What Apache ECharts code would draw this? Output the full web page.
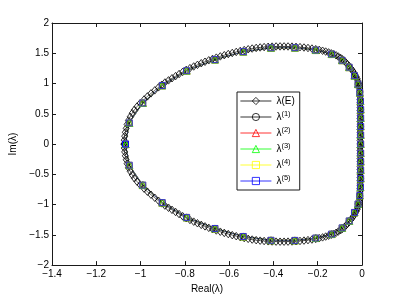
<!DOCTYPE html>
<html><head><meta charset="utf-8">
<script src="https://cdn.jsdelivr.net/npm/echarts@6/dist/echarts.min.js"></script>
<style>html,body{margin:0;padding:0;background:#fff}#c{width:399px;height:299px}</style>
</head><body><div id="c"></div>
<script>
// Tick values
const xTicks = [-1.4,-1.2,-1,-0.8,-0.6,-0.4,-0.2,0];
const yTicks = [-2,-1.5,-1,-0.5,0,0.5,1,1.5,2];
// Series names
const seriesNames = ['λ(E)','λ(1)','λ(2)','λ(3)','λ(4)','λ(5)'];
// λ(E): exact eigenvalues, upper half (Re, Im)
const lamEUpper = [
[-1.075,0.000],
[-1.074,0.065],[-1.072,0.130],[-1.069,0.195],[-1.065,0.260],[-1.061,0.325],[-1.055,0.390],[-1.047,0.450],[-1.038,0.510],[-1.028,0.565],[-1.016,0.620],[-1.002,0.675],
[-0.984,0.737],[-0.969,0.787],[-0.953,0.837],[-0.936,0.887],[-0.919,0.937],[-0.904,0.980],
[-0.890,1.017],[-0.874,1.052],[-0.858,1.087],[-0.842,1.122],[-0.826,1.157],[-0.810,1.192],[-0.794,1.225],
[-0.777,1.254],[-0.760,1.282],[-0.743,1.309],[-0.726,1.335],[-0.709,1.360],[-0.692,1.384],[-0.675,1.407],[-0.658,1.428],
[-0.640,1.448],[-0.622,1.468],[-0.604,1.487],[-0.586,1.505],[-0.568,1.522],[-0.550,1.538],[-0.532,1.553],[-0.514,1.566],[-0.496,1.578],[-0.478,1.588],[-0.460,1.596],[-0.442,1.602],[-0.424,1.607],[-0.406,1.610],
[-0.388,1.612],[-0.370,1.613],[-0.352,1.613],[-0.334,1.612],[-0.316,1.610],[-0.298,1.606],[-0.280,1.601],[-0.262,1.595],[-0.244,1.587],[-0.226,1.578],[-0.209,1.567],[-0.193,1.555],[-0.178,1.542],[-0.164,1.528],[-0.151,1.514],[-0.139,1.499],[-0.128,1.484],
[-0.117,1.466],[-0.107,1.446],[-0.097,1.424],[-0.088,1.400],[-0.080,1.374],[-0.073,1.347],[-0.066,1.320],[-0.059,1.292],[-0.053,1.264],[-0.047,1.236],[-0.041,1.206],[-0.036,1.176],[-0.031,1.144],[-0.026,1.112],[-0.022,1.080],[-0.019,1.047],[-0.016,1.014],[-0.014,0.980],[-0.012,0.946],[-0.011,0.912],
[-0.010,0.870],[-0.010,0.825],[-0.009,0.780],[-0.009,0.735],[-0.009,0.690],[-0.009,0.645],[-0.009,0.600],[-0.009,0.555],[-0.009,0.510],[-0.009,0.465],[-0.009,0.420],[-0.009,0.375],[-0.009,0.330],[-0.009,0.285],[-0.009,0.240],[-0.009,0.195],[-0.009,0.150],[-0.009,0.105],[-0.009,0.060],[-0.009,0.015]
];
// λ(E): lower half (Re, Im)
const lamELower = [
[-0.009,-0.015],[-0.009,-0.060],[-0.009,-0.105],[-0.009,-0.150],[-0.009,-0.195],[-0.009,-0.240],[-0.009,-0.285],[-0.009,-0.330],[-0.009,-0.375],[-0.009,-0.420],[-0.009,-0.465],[-0.009,-0.510],[-0.009,-0.555],[-0.009,-0.600],[-0.009,-0.645],[-0.009,-0.690],[-0.009,-0.735],[-0.009,-0.780],[-0.010,-0.825],[-0.010,-0.870],
[-0.011,-0.912],[-0.012,-0.946],[-0.014,-0.980],[-0.016,-1.014],[-0.019,-1.047],[-0.022,-1.080],[-0.026,-1.112],[-0.031,-1.144],[-0.036,-1.176],[-0.041,-1.206],[-0.047,-1.236],[-0.053,-1.264],[-0.059,-1.292],[-0.066,-1.320],[-0.073,-1.347],[-0.080,-1.374],[-0.088,-1.400],[-0.097,-1.424],[-0.107,-1.446],[-0.117,-1.466],
[-0.128,-1.484],[-0.139,-1.499],[-0.151,-1.514],[-0.164,-1.528],[-0.178,-1.542],[-0.193,-1.555],[-0.209,-1.567],[-0.226,-1.578],[-0.244,-1.587],[-0.262,-1.595],[-0.280,-1.601],[-0.298,-1.606],[-0.316,-1.610],[-0.334,-1.612],[-0.352,-1.613],[-0.370,-1.613],[-0.388,-1.612],
[-0.406,-1.610],[-0.424,-1.607],[-0.442,-1.602],[-0.460,-1.596],[-0.478,-1.588],[-0.496,-1.578],[-0.514,-1.566],[-0.532,-1.553],[-0.550,-1.538],[-0.568,-1.522],[-0.586,-1.505],[-0.604,-1.487],[-0.622,-1.468],[-0.640,-1.448],
[-0.658,-1.428],[-0.675,-1.407],[-0.692,-1.384],[-0.709,-1.360],[-0.726,-1.335],[-0.743,-1.309],[-0.760,-1.282],[-0.777,-1.254],
[-0.794,-1.225],[-0.810,-1.192],[-0.826,-1.157],[-0.842,-1.122],[-0.858,-1.087],[-0.874,-1.052],[-0.890,-1.017],
[-0.904,-0.980],[-0.919,-0.937],[-0.936,-0.887],[-0.953,-0.837],[-0.969,-0.787],[-0.984,-0.737],
[-1.002,-0.675],[-1.016,-0.620],[-1.028,-0.565],[-1.038,-0.510],[-1.047,-0.450],[-1.055,-0.390],[-1.061,-0.325],[-1.065,-0.260],[-1.069,-0.195],[-1.072,-0.130],[-1.074,-0.065],[-1.075,0.000]
];
// λ(1)…λ(5): approximations (Re, Im)
const lamApprox = [
[-1.068,0.000],[-1.051,0.349],[-0.990,0.678],[-0.902,0.968],[-0.792,1.212],[-0.664,1.395],[-0.536,1.527],[-0.411,1.590],[-0.303,1.592],[-0.209,1.553],[-0.137,1.487],[-0.090,1.385],[-0.058,1.270],[-0.034,1.130],[-0.018,0.990],[-0.010,0.850],[-0.007,0.710],[-0.006,0.570],[-0.006,0.430],[-0.006,0.290],[-0.006,0.150],[-0.006,0.000],
[-0.006,-0.150],[-0.006,-0.290],[-0.006,-0.430],[-0.006,-0.570],[-0.007,-0.710],[-0.010,-0.850],[-0.018,-0.990],[-0.034,-1.130],[-0.058,-1.270],[-0.090,-1.385],[-0.137,-1.487],[-0.209,-1.553],[-0.303,-1.592],[-0.411,-1.590],[-0.536,-1.527],[-0.664,-1.395],[-0.792,-1.212],[-0.902,-0.968],[-0.990,-0.678],[-1.051,-0.349],[-1.068,0.000]
];
const lam1 = lamApprox, lam2 = lamApprox, lam3 = lamApprox, lam4 = lamApprox, lam5 = lamApprox;

const FONT = '"Liberation Sans", Arial, Helvetica, sans-serif';
const AX = '#1a1a1a';
const fmtNum = v => String(+v.toFixed(2)).replace('-', '\u2212');

function mk(name, data, color, symbol, size, bw) {
  return {
    name, type: 'line', data, xAxisIndex: 0, yAxisIndex: 0,
    symbol, symbolSize: size, showSymbol: true, clip: false,
    lineStyle: { color, width: 0.6 },
    itemStyle: { color: 'rgba(255,255,255,0)', borderColor: color, borderWidth: bw },
    emphasis: { disabled: true }, silent: true, z: 2
  };
}

const chart = echarts.init(document.getElementById('c'), null, { renderer: 'canvas' });
const axBase = {
  type: 'value', splitLine: { show: false },
  axisLine: { show: true, onZero: false, lineStyle: { color: AX, width: 1 } },
  axisTick: { show: true, inside: true, length: 4, lineStyle: { color: AX } }
};
chart.setOption({
  animation: false,
  backgroundColor: '#fff',
  textStyle: { fontFamily: FONT },
  grid: { left: 52, right: 37, top: 23, bottom: 33 },
  xAxis: [
    Object.assign({}, axBase, { position: 'bottom', min: xTicks[0], max: xTicks[xTicks.length-1], interval: 0.2,
      name: 'Real(λ)', nameLocation: 'middle', nameGap: 11,
      nameTextStyle: { color: '#000', fontSize: 10, fontFamily: FONT },
      axisLabel: { color: '#000', fontSize: 10, margin: 4, fontFamily: FONT, formatter: fmtNum } }),
    Object.assign({}, axBase, { position: 'top', min: xTicks[0], max: xTicks[xTicks.length-1], interval: 0.2,
      axisLabel: { show: false } })
  ],
  yAxis: [
    Object.assign({}, axBase, { position: 'left', min: yTicks[0], max: yTicks[yTicks.length-1], interval: 0.5,
      name: 'Im(λ)', nameLocation: 'middle', nameGap: 26,
      nameTextStyle: { color: '#000', fontSize: 10, fontFamily: FONT },
      axisLabel: { color: '#000', fontSize: 10, margin: 3, fontFamily: FONT, formatter: fmtNum } }),
    Object.assign({}, axBase, { position: 'right', min: yTicks[0], max: yTicks[yTicks.length-1], interval: 0.5,
      axisLabel: { show: false } })
  ],
  legend: {
    orient: 'vertical', left: 237, top: 92,
    backgroundColor: '#fff', borderColor: AX, borderWidth: 1, borderRadius: 0,
    padding: [4, 5, 4, 3], itemWidth: 31, itemHeight: 9, itemGap: 4,
    lineStyle: { width: 0.8 },
    itemStyle: { borderWidth: 0.8 },
    data: seriesNames,
    formatter: function (n) {
      const m = n.match(/^λ\((\d)\)$/);
      if (m) return '{n|λ}{s|(' + m[1] + ')}';
      return '{n|' + n + '}';
    },
    textStyle: {
      fontFamily: FONT, color: '#000', fontSize: 10,
      rich: {
        n: { fontSize: 10, lineHeight: 14, fontFamily: FONT, color: '#000' },
        s: { fontSize: 7.5, lineHeight: 14, fontFamily: FONT, color: '#000', verticalAlign: 'top' }
      }
    }
  },
  series: [
    mk(seriesNames[0], lamEUpper.concat(lamELower), '#000', 'diamond', [6, 7.5], 0.8),
    mk(seriesNames[1], lam1, '#000', 'circle', 6, 0.7),
    mk(seriesNames[2], lam2, '#ff0000', 'triangle', 7, 0.8),
    mk(seriesNames[3], lam3, '#00ff00', 'triangle', 7, 0.8),
    mk(seriesNames[4], lam4, '#ffff00', 'rect', 6, 0.8),
    mk(seriesNames[5], lam5, '#0000ff', 'rect', 6, 0.8)
  ]
});
</script></body></html>
